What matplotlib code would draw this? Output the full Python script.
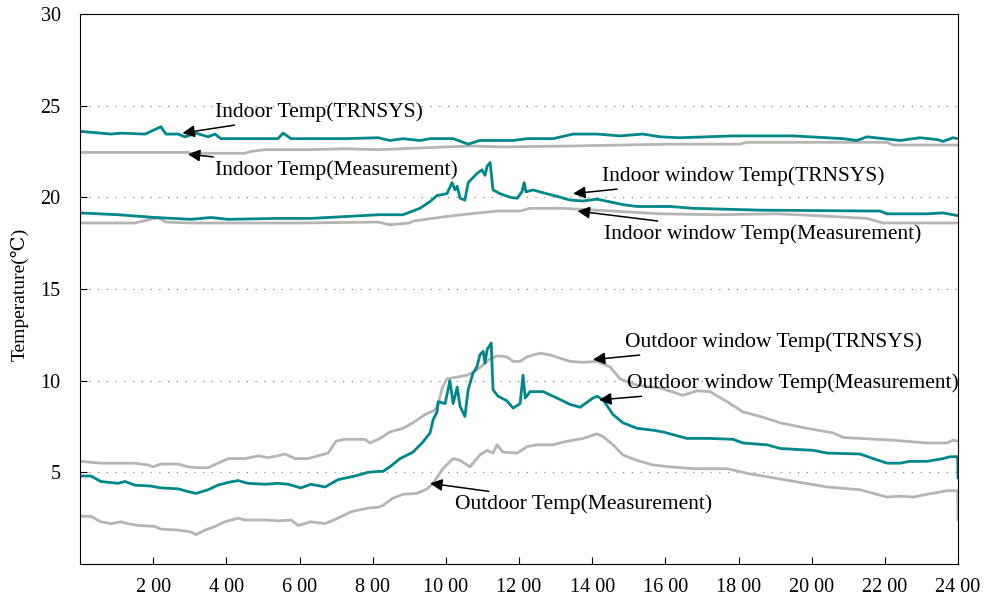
import matplotlib.pyplot as plt

# --- data (hour of day, temperature in C) ---
indoor_trnsys_h = [0, 0.85, 1.12, 1.78, 2.21, 2.35, 2.68, 2.87, 3.17, 3.50, 3.69, 3.85, 5.41, 5.55,
                   5.77, 7.24, 8.15, 8.47, 8.83, 9.29, 9.57, 10.20, 10.61, 10.93, 11.84, 12.22, 12.93,
                   13.48, 14.13, 14.76, 15.39, 15.86, 16.40, 17.85, 19.49, 20.86, 21.24, 21.51, 22.42,
                   22.96, 23.43, 23.59, 23.86, 24]
indoor_trnsys_t = [23.6, 23.45, 23.5, 23.45, 23.85, 23.45, 23.45, 23.3, 23.5, 23.3, 23.45, 23.2, 23.2, 23.5,
                   23.2, 23.2, 23.25, 23.1, 23.2, 23.1, 23.2, 23.2, 22.9, 23.1, 23.1, 23.2, 23.2,
                   23.45, 23.45, 23.35, 23.45, 23.3, 23.25, 23.35, 23.35, 23.2, 23.1, 23.3, 23.1,
                   23.25, 23.15, 23.05, 23.25, 23.2]

indoor_meas_h = [0, 2.95, 3.0, 4.51, 4.67, 5.06, 6.31, 7.24, 8.15, 10.66, 11.56, 13.40, 16.13, 18.04,
                 18.23, 22.06, 22.23, 24]
indoor_meas_t = [22.45, 22.45, 22.4, 22.4, 22.5, 22.6, 22.6, 22.65, 22.6, 22.8, 22.75, 22.8, 22.9, 22.9,
                 23.0, 23.0, 22.85, 22.85]

inwin_trnsys_h = [0, 1.04, 2.05, 3.03, 3.58, 4.05, 5.41, 6.31, 7.24, 8.15, 8.83, 9.29, 9.57, 9.76,
                  10.03, 10.17, 10.25, 10.31, 10.39, 10.52, 10.61, 10.85, 10.99, 11.07, 11.13, 11.21,
                  11.29, 11.48, 11.76, 11.95, 12.08, 12.14, 12.19, 12.38, 12.66, 13.04, 13.40, 13.75,
                  14.13, 14.49, 14.84, 15.23, 16.13, 16.76, 18.59, 21.87, 22.06, 23.15, 23.59, 24]
inwin_trnsys_t = [19.15, 19.05, 18.9, 18.8, 18.9, 18.8, 18.85, 18.85, 18.95, 19.05, 19.05, 19.4, 19.77, 20.1,
                  20.2, 20.8, 20.4, 20.6, 19.95, 19.85, 20.8, 21.3, 21.5, 21.2, 21.7, 21.9,
                  20.4, 20.2, 20.0, 19.95, 20.3, 20.8, 20.3, 20.4, 20.25, 20.05, 19.85, 19.8,
                  19.9, 19.75, 19.6, 19.5, 19.5, 19.4, 19.3, 19.25, 19.1, 19.1, 19.15, 19.0]

inwin_meas_h = [0, 1.5, 2.13, 2.35, 3.0, 6.0, 8.15, 8.47, 9.0, 9.10, 10.0, 10.66, 11.40, 12.03, 12.30,
                13.20, 14.57, 15.86, 17.41, 19.05, 20.15, 21.51, 21.95, 24]
inwin_meas_t = [18.6, 18.6, 18.9, 18.65, 18.6, 18.6, 18.65, 18.5, 18.6, 18.7, 18.95, 19.1, 19.25, 19.25, 19.4,
                19.4, 19.25, 19.1, 19.05, 19.1, 19.0, 18.85, 18.6, 18.6]

outwin_trnsys_h = [0, 0.57, 1.5, 1.86, 2.0, 2.19, 2.68, 2.95, 3.23, 3.50, 3.77, 4.05, 4.51, 4.87, 5.14,
                   5.41, 5.60, 5.88, 6.23, 6.51, 6.78, 7.0, 7.24, 7.79, 7.93, 8.20, 8.47, 8.83, 9.10,
                   9.43, 9.70, 9.79, 9.90, 10.03, 10.31, 10.58, 10.74, 10.93, 11.21, 11.40, 11.67,
                   11.84, 12.03, 12.22, 12.58, 12.85, 13.40, 13.75, 14.13, 14.49, 14.76, 15.23, 15.86,
                   16.48, 16.87, 17.22, 17.69, 18.12, 18.59, 19.14, 19.87, 20.59, 20.86, 21.32, 22.23,
                   23.15, 23.70, 23.86, 24]
outwin_trnsys_t = [5.6, 5.5, 5.5, 5.4, 5.3, 5.45, 5.45, 5.3, 5.25, 5.25, 5.5, 5.75, 5.75, 5.9, 5.8,
                   5.9, 6.0, 5.75, 5.75, 5.9, 6.05, 6.7, 6.8, 6.8, 6.6, 6.85, 7.2, 7.4, 7.7,
                   8.15, 8.4, 8.7, 9.6, 10.1, 10.2, 10.3, 10.45, 10.7, 11.2, 11.35, 11.3,
                   11.05, 11.05, 11.3, 11.5, 11.4, 11.05, 11.0, 11.05, 10.75, 10.1, 9.75, 9.6,
                   9.2, 9.45, 9.4, 8.85, 8.3, 8.05, 7.7, 7.4, 7.15, 6.9, 6.85, 6.75,
                   6.6, 6.6, 6.75, 6.7]

outwin_meas_h = [0, 0.30, 0.57, 1.04, 1.23, 1.50, 1.94, 2.21, 2.68, 2.95, 3.17, 3.50, 3.77, 4.05, 4.32,
                 4.59, 5.06, 5.41, 5.69, 6.04, 6.31, 6.70, 7.05, 7.52, 7.87, 8.15, 8.28, 8.47, 8.75,
                 9.10, 9.35, 9.57, 9.65, 9.76, 9.79, 9.98, 10.06, 10.11, 10.20, 10.31, 10.39, 10.52,
                 10.61, 10.74, 10.85, 10.93, 11.02, 11.07, 11.13, 11.24, 11.29, 11.43, 11.67, 11.84,
                 12.03, 12.11, 12.17, 12.30, 12.66, 13.04, 13.40, 13.67, 14.02, 14.13, 14.30, 14.57,
                 14.84, 15.23, 15.66, 15.94, 16.59, 17.22, 17.85, 18.12, 18.78, 19.14, 20.04, 20.42,
                 21.32, 21.68, 22.06, 22.42, 22.69, 23.15, 23.59, 23.78, 23.99, 24.0]
outwin_meas_t = [4.8, 4.8, 4.5, 4.4, 4.5, 4.3, 4.25, 4.15, 4.1, 3.95, 3.85, 4.05, 4.3, 4.45, 4.55,
                 4.4, 4.35, 4.4, 4.35, 4.15, 4.35, 4.2, 4.6, 4.8, 5.0, 5.05, 5.05, 5.3, 5.75,
                 6.1, 6.6, 7.15, 7.85, 8.3, 8.85, 8.75, 9.5, 10.0, 8.75, 9.65, 8.6, 8.05,
                 9.5, 10.4, 10.75, 11.4, 11.6, 10.95, 11.7, 12.05, 9.5, 9.15, 8.9, 8.5,
                 8.75, 10.3, 9.05, 9.4, 9.4, 9.05, 8.7, 8.55, 9.05, 9.15, 8.95, 8.15,
                 7.7, 7.4, 7.3, 7.2, 6.85, 6.85, 6.8, 6.6, 6.5, 6.3, 6.2, 6.05,
                 6.0, 5.75, 5.5, 5.5, 5.6, 5.6, 5.75, 5.85, 5.85, 4.7]

outdoor_meas_h = [0, 0.30, 0.57, 0.85, 1.12, 1.31, 1.59, 2.05, 2.21, 2.68, 3.03, 3.17, 3.42, 3.69, 3.96,
                  4.32, 4.51, 5.06, 5.41, 5.77, 5.96, 6.31, 6.70, 7.05, 7.41, 7.87, 8.15, 8.28, 8.56,
                  8.83, 9.21, 9.49, 9.65, 9.92, 10.20, 10.39, 10.66, 10.93, 11.13, 11.29, 11.40, 11.56,
                  11.95, 12.22, 12.49, 12.93, 13.20, 13.75, 14.13, 14.30, 14.57, 14.84, 15.23, 15.66,
                  16.13, 16.76, 17.69, 18.23, 18.94, 19.68, 20.42, 21.32, 22.06, 22.42, 22.77, 23.15,
                  23.70, 23.99, 24.0]
outdoor_meas_t = [2.6, 2.6, 2.3, 2.2, 2.3, 2.2, 2.1, 2.05, 1.9, 1.85, 1.75, 1.6, 1.85, 2.05, 2.3,
                  2.5, 2.4, 2.4, 2.35, 2.4, 2.1, 2.3, 2.2, 2.5, 2.85, 3.05, 3.1, 3.2, 3.6,
                  3.8, 3.85, 4.1, 4.4, 5.2, 5.75, 5.65, 5.3, 5.95, 6.2, 6.05, 6.5, 6.1,
                  6.05, 6.4, 6.5, 6.5, 6.65, 6.85, 7.1, 6.95, 6.5, 5.95, 5.65, 5.4,
                  5.3, 5.2, 5.2, 4.95, 4.7, 4.45, 4.2, 4.05, 3.65, 3.7, 3.65, 3.8,
                  4.0, 4.0, 2.4]

x_ticks = [2, 4, 6, 8, 10, 12, 14, 16, 18, 20, 22, 24]
x_labels = ["2 00", "4 00", "6 00", "8 00", "10 00", "12 00", "14 00",
            "16 00", "18 00", "20 00", "22 00", "24 00"]
y_ticks = [5, 10, 15, 20, 25, 30]

# label text, arrow tip, text anchor (data coords)
labels = [
    ("Indoor Temp(TRNSYS)", (2.8, 23.5), (3.7, 24.65)),
    ("Indoor Temp(Measurement)", (2.95, 22.35), (3.7, 21.5)),
    ("Indoor window Temp(TRNSYS)", (13.48, 20.2), (14.27, 21.15)),
    ("Indoor window Temp(Measurement)", (13.6, 19.25), (14.32, 18.0)),
    ("Outdoor window Temp(TRNSYS)", (14.02, 11.15), (14.9, 12.1)),
    ("Outdoor window Temp(Measurement)", (14.19, 8.95), (14.95, 9.85)),
    ("Outdoor Temp(Measurement)", (9.57, 4.4), (10.25, 3.25)),
]

TEAL = "#00878a"
GREY = "#b5b5b5"

plt.rcParams["font.family"] = ["Liberation Serif", "DejaVu Serif"]

fig = plt.figure(figsize=(9.84, 6.0), dpi=100)
ax = fig.add_axes([0.0813, 0.06, 0.8923, 0.9167])

lw = 2.0
ax.plot(outdoor_meas_h, outdoor_meas_t, color=GREY, lw=lw)
ax.plot(outwin_trnsys_h, outwin_trnsys_t, color=GREY, lw=lw)
ax.plot(outwin_meas_h, outwin_meas_t, color=TEAL, lw=lw)
ax.plot(inwin_meas_h, inwin_meas_t, color=GREY, lw=lw)
ax.plot(inwin_trnsys_h, inwin_trnsys_t, color=TEAL, lw=lw)
ax.plot(indoor_meas_h, indoor_meas_t, color=GREY, lw=lw)
ax.plot(indoor_trnsys_h, indoor_trnsys_t, color=TEAL, lw=lw)

for text, tip, pos in labels:
    ax.annotate(text, xy=tip, xytext=pos, fontsize=15.5, va="center", ha="left",
                arrowprops=dict(arrowstyle="-|>", color="black", lw=1.1,
                                mutation_scale=18, shrinkA=2, shrinkB=0))

ax.set_xlim(0, 24)
ax.set_ylim(0, 30)
ax.set_xticks(x_ticks)
ax.set_xticklabels(x_labels)
ax.set_yticks(y_ticks)
ax.tick_params(axis="both", direction="in", labelsize=14.5, length=5)
ax.tick_params(axis="x", pad=10)
ax.tick_params(axis="y", pad=14)

for y in [5, 10, 15, 20, 25]:
    ax.axhline(y, color="#888888", lw=0.9, linestyle=(0, (1, 6)), zorder=0)

ax.set_ylabel("Temperature(℃)", fontsize=14)
ax.yaxis.set_label_coords(-0.059, 0.49)

fig.savefig("out.png", dpi=100)
